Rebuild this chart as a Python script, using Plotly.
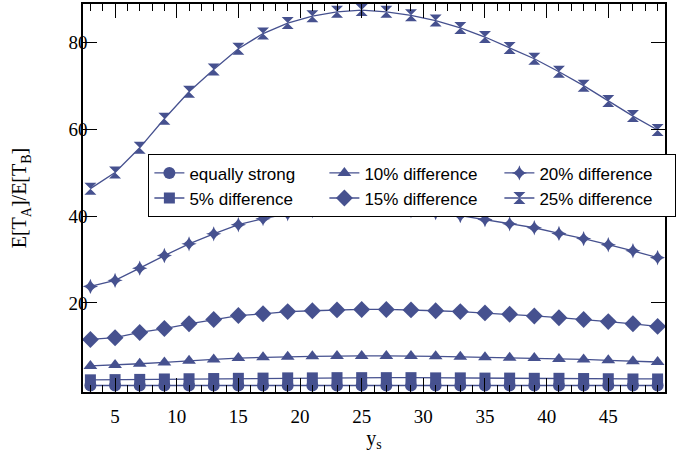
import plotly.graph_objects as go

ys = list(range(3, 50, 2))

equally_strong = [1.0] * 24
diff_05 = [2.3, 2.35, 2.4, 2.5, 2.55, 2.6, 2.65, 2.7, 2.75, 2.75, 2.8, 2.8,
           2.8, 2.8, 2.75, 2.75, 2.7, 2.7, 2.65, 2.65, 2.6, 2.55, 2.5, 2.5]
diff_10 = [5.5, 5.7, 6.0, 6.3, 6.7, 7.0, 7.3, 7.5, 7.6, 7.7, 7.8, 7.8,
           7.8, 7.8, 7.7, 7.6, 7.5, 7.4, 7.3, 7.1, 7.0, 6.8, 6.6, 6.4]
diff_15 = [11.6, 12.0, 13.2, 14.1, 15.2, 16.2, 17.1, 17.5, 18.0, 18.2, 18.4, 18.5,
           18.5, 18.4, 18.2, 18.0, 17.7, 17.4, 17.0, 16.6, 16.2, 15.7, 15.2, 14.6]
diff_20 = [23.8, 25.2, 28.0, 30.9, 33.6, 35.9, 38.0, 39.4, 40.5, 41.2, 41.7, 41.7,
           41.6, 41.2, 40.8, 40.1, 39.2, 38.2, 37.3, 36.0, 34.8, 33.4, 32.0, 30.4]
diff_25 = [46.3, 50.0, 55.7, 62.4, 68.6, 73.7, 78.5, 82.0, 84.4, 86.0, 87.0, 87.4,
           87.0, 86.2, 85.0, 83.3, 81.2, 78.7, 76.2, 73.2, 70.0, 66.5, 63.0, 59.8]

x_ticks = [5, 10, 15, 20, 25, 30, 35, 40, 45]
y_ticks = [20, 40, 60, 80]

names = ["equally strong", "10% difference", "20% difference",
         "5% difference", "15% difference", "25% difference"]
series = [equally_strong, diff_10, diff_20, diff_05, diff_15, diff_25]
symbols = ["circle", "triangle-up", "star-diamond", "square", "diamond", "hourglass"]
sizes = [12, 12, 11, 11, 13, 12]

color = "#46518f"

fig = go.Figure()
for name, vals, sym, sz in zip(names, series, symbols, sizes):
    fig.add_trace(go.Scatter(
        x=ys, y=vals, name=name, mode="lines+markers",
        line=dict(color=color, width=1.3),
        marker=dict(symbol=sym, size=sz, color=color, line=dict(width=0)),
    ))

fig.update_layout(
    width=682, height=462,
    margin=dict(l=83, r=17, t=4, b=70),
    plot_bgcolor="white", paper_bgcolor="white",
    font=dict(family="Liberation Serif", size=19, color="black"),
    showlegend=True,
    legend=dict(
        orientation="h", x=0.112, y=0.613, xanchor="left", yanchor="top",
        entrywidth=130, entrywidthmode="pixels",
        font=dict(family="Liberation Sans", size=17, color="black"),
        bgcolor="white", bordercolor="black", borderwidth=1.2,
        itemsizing="trace", traceorder="normal",
    ),
)

fig.update_xaxes(
    range=[2.4, 49.6], tickmode="array", tickvals=x_ticks,
    ticks="inside", ticklen=14, tickwidth=1.2, tickcolor="black",
    showline=True, linecolor="black", linewidth=1.5, mirror="ticks",
    showgrid=False, zeroline=False, automargin=False,
    ticklabelstandoff=6,
    minor=dict(dtick=1, tick0=0, ticks="inside", ticklen=7, tickwidth=1.2, tickcolor="black", showgrid=False),
    title=dict(text="y<sub>s</sub>", font=dict(size=20), standoff=2),
)
fig.update_yaxes(
    range=[-0.5, 88.8], tickmode="array", tickvals=y_ticks,
    ticks="inside", ticklen=14, tickwidth=1.2, tickcolor="black",
    showline=True, linecolor="black", linewidth=1.5, mirror="ticks",
    showgrid=False, zeroline=False, automargin=True,
    ticklabelstandoff=-10,
    title=dict(text="E[T<sub>A</sub>]/E[T<sub>B</sub>]", font=dict(size=20), standoff=36),
)

fig.write_html("out.html", config={"displayModeBar": False},
               post_script="document.body.style.margin='0';")
